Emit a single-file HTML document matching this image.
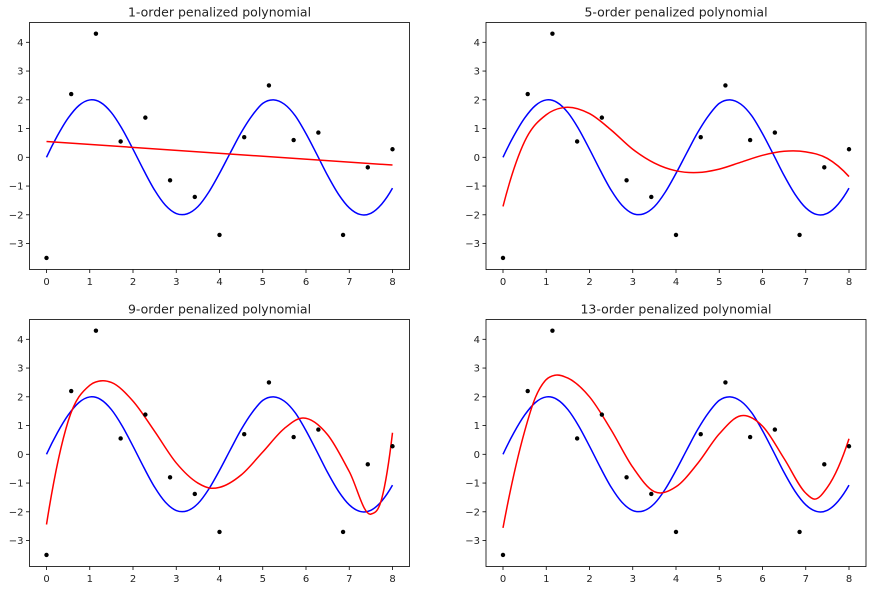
<!DOCTYPE html>
<html><head><meta charset="utf-8"><style>
body{margin:0;background:#fff;}
svg text{font-family:"DejaVu Sans","Liberation Sans",sans-serif;fill:#222;}
</style></head><body>
<svg id="fig" width="873" height="590" viewBox="0 0 873 590" xmlns="http://www.w3.org/2000/svg"></svg>
<script>
const titles = ["1-order penalized polynomial","5-order penalized polynomial","9-order penalized polynomial","13-order penalized polynomial"];
const pointX = [0,0.5714,1.1429,1.7143,2.2857,2.8571,3.4286,4,4.5714,5.1429,5.7143,6.2857,6.8571,7.4286,8];
const pointY = [-3.5,2.2,4.3,0.55,1.38,-0.8,-1.38,-2.7,0.7,2.5,0.6,0.86,-2.7,-0.35,0.28];
const trueX = [0,0.25,0.5,0.75,1,1.25,1.5,1.75,2,2.25,2.5,2.75,3,3.25,3.5,3.75,4,4.25,4.5,4.75,5,5.25,5.5,5.75,6,6.25,6.5,6.75,7,7.25,7.5,7.75,8];
const trueY = [0,0.744,1.363,1.802,1.995,1.909,1.556,0.986,0.282,-0.456,-1.143,-1.668,-1.955,-1.968,-1.716,-1.215,-0.559,0.157,0.857,1.443,1.876,1.999,1.848,1.447,0.824,0.104,-0.634,-1.282,-1.756,-1.988,-1.947,-1.627,-1.073];
const fit1X = [0,8];
const fit1Y = [0.55,-0.27];
const fit5X = [0,0.5,1,1.4,2,2.5,3,3.5,4,4.5,5,5.5,6,6.5,7,7.5,8];
const fit5Y = [-1.71,0.55,1.48,1.73,1.52,0.95,0.28,-0.2,-0.47,-0.53,-0.41,-0.17,0.07,0.21,0.19,-0.04,-0.67];
const fit9X = [0,0.5,1,1.3,1.5,2,2.5,3,3.5,3.8,4,4.5,5,5.5,5.9,6.5,7,7.5,7.75,8];
const fit9Y = [-2.44,1.15,2.4,2.56,2.5,1.85,0.8,-0.3,-1.0,-1.18,-1.15,-0.72,0.08,0.9,1.26,0.68,-0.6,-2.08,-1.55,0.75];
const fit13X = [0,0.5,0.75,1,1.2,1.5,2,2.5,3,3.5,4,4.5,5,5.5,6,6.5,7,7.2,7.5,8];
const fit13Y = [-2.56,0.8,1.98,2.6,2.75,2.65,2.0,0.85,-0.45,-1.30,-1.13,-0.32,0.71,1.34,0.98,-0.15,-1.35,-1.56,-1.15,0.54];
const xTicks = [0,1,2,3,4,5,6,7,8];
const yTicks = [-3,-2,-1,0,1,2,3,4];
const fitsX = [fit1X,fit5X,fit9X,fit13X];
const fitsY = [fit1Y,fit5Y,fit9Y,fit13Y];

const NS="http://www.w3.org/2000/svg";
const svg=document.getElementById('fig');
function mk(tag,attrs,parent){const e=document.createElementNS(NS,tag);for(const k in attrs)e.setAttribute(k,attrs[k]);parent.appendChild(e);return e;}
function smooth(pts){
  const n=pts.length;
  if(n<3) return 'M'+pts.map(p=>p[0].toFixed(2)+','+p[1].toFixed(2)).join('L');
  const m=[];
  for(let i=0;i<n;i++){
    if(i===0){const h=pts[1][0]-pts[0][0],h1=pts[2][0]-pts[1][0];const d0=(pts[1][1]-pts[0][1])/h,d1=(pts[2][1]-pts[1][1])/h1;m.push(d0+(d0-d1)*h/(h+h1));}
    else if(i===n-1){const h=pts[n-1][0]-pts[n-2][0],h1=pts[n-2][0]-pts[n-3][0];const d0=(pts[n-1][1]-pts[n-2][1])/h,d1=(pts[n-2][1]-pts[n-3][1])/h1;m.push(d0+(d0-d1)*h/(h+h1));}
    else{
      const h0=pts[i][0]-pts[i-1][0], h1=pts[i+1][0]-pts[i][0];
      const d0=(pts[i][1]-pts[i-1][1])/h0, d1=(pts[i+1][1]-pts[i][1])/h1;
      m.push((d0*h1+d1*h0)/(h0+h1));
    }
  }
  let d='M'+pts[0][0].toFixed(2)+','+pts[0][1].toFixed(2);
  for(let i=0;i<n-1;i++){
    const h=pts[i+1][0]-pts[i][0];
    const c1=[pts[i][0]+h/3,pts[i][1]+m[i]*h/3];
    const c2=[pts[i+1][0]-h/3,pts[i+1][1]-m[i+1]*h/3];
    d+='C'+c1[0].toFixed(2)+','+c1[1].toFixed(2)+' '+c2[0].toFixed(2)+','+c2[1].toFixed(2)+' '+pts[i+1][0].toFixed(2)+','+pts[i+1][1].toFixed(2);
  }
  return d;
}
const lefts=[29.5,486], tops=[22.5,319.5], W=380, H=247;
for(let k=0;k<4;k++){
  const L=lefts[k%2], T=tops[Math.floor(k/2)];
  const sx=v=>L+17+v*43.25, sy=v=>T+134.8-v*28.75;
  const g=mk('g',{},svg);
  
  
  const t=mk('text',{x:L+W/2,y:T-6,'text-anchor':'middle','font-size':'12.5'},g);
  
  
  t.textContent=titles[k];
  xTicks.forEach(v=>{
    const l=mk('line',{x1:sx(v),x2:sx(v),y1:T+H,y2:T+H+3.5,stroke:'#000','stroke-width':0.8},g);
    
    
    const tx=mk('text',{x:sx(v),y:T+H+15.5,'text-anchor':'middle','font-size':'10'},g);
    
    
    tx.textContent=String(v);
  });
  yTicks.forEach(v=>{
    const l=mk('line',{x1:L-3.5,x2:L,y1:sy(v),y2:sy(v),stroke:'#000','stroke-width':0.8},g);
    
    
    const tx=mk('text',{x:L-6,y:sy(v)+3.6,'text-anchor':'end','font-size':'10'},g);
    
    
    tx.textContent=(v<0?'\u2212':'')+Math.abs(v);
  });
  const tp=mk('path',{d:smooth(trueX.map((x,i)=>[sx(x),sy(trueY[i])])),fill:'none',stroke:'#0000ff','stroke-width':1.5},g);
  
  
  const fp=mk('path',{d:smooth(fitsX[k].map((x,i)=>[sx(x),sy(fitsY[k][i])])),fill:'none',stroke:'#ff0000','stroke-width':1.5},g);
  
  
  pointX.forEach((x,i)=>{
    const c=mk('circle',{cx:sx(x),cy:sy(pointY[i]),r:2.2,fill:'#000'},g);
    
    
  });
  const fr=mk('rect',{x:L,y:T,width:W,height:H,fill:'none',stroke:'#000','stroke-width':0.8},g);
  
  
}
</script>
</body></html>
